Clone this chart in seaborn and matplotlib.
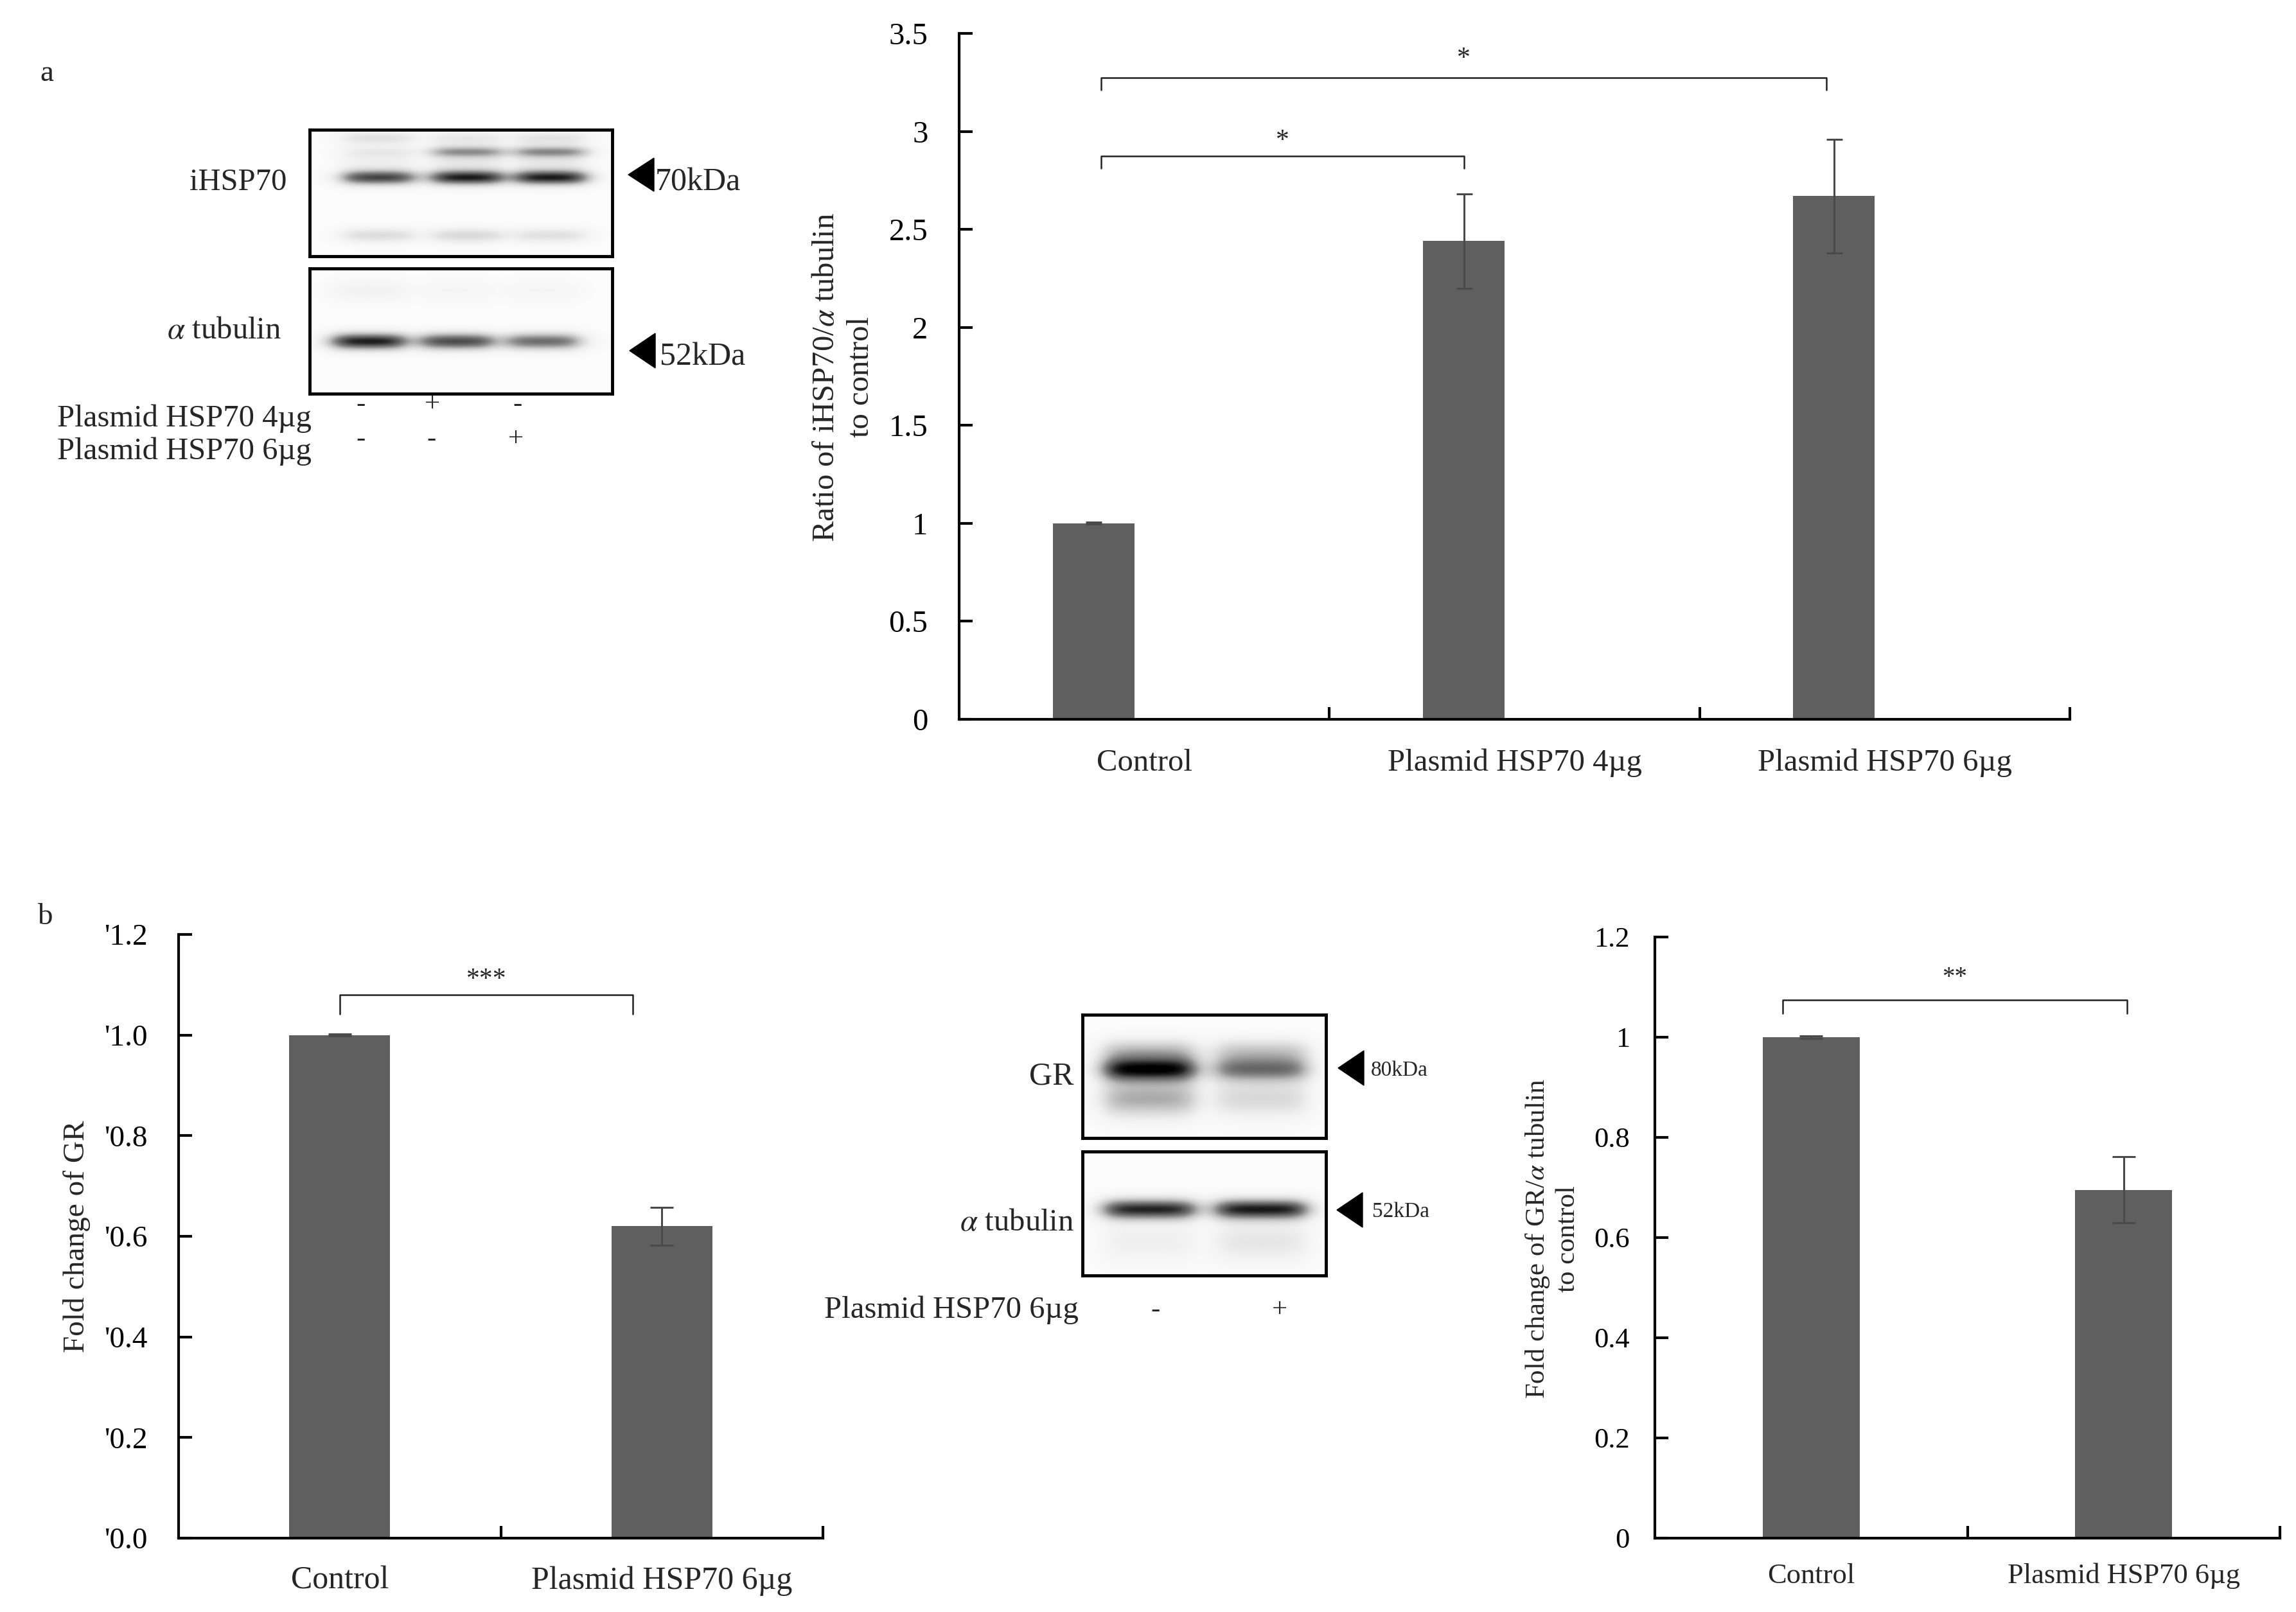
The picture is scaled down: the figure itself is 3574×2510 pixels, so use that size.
import numpy as np
import pandas as pd
import matplotlib.pyplot as plt
import seaborn as sns
from matplotlib.patches import Polygon

# ---------- style ----------
sns.set_style('white')
plt.rcParams['font.family'] = ['Liberation Serif', 'DejaVu Serif']
plt.rcParams['mathtext.fontset'] = 'stix'

W, H = 3574, 2510
BAR = '#5f5f5f'
ERR = '#4a4a4a'

# ---------- data ----------
# panel a: iHSP70 / alpha tubulin
a_groups = ['Control', 'Plasmid HSP70 4µg', 'Plasmid HSP70 6µg']
a_ratio = [1.0, 2.44, 2.67]
a_err = [0.005, 0.24, 0.29]
a_yticks = [0, 0.5, 1, 1.5, 2, 2.5, 3, 3.5]
a_yticklabels = ['0', '0.5', '1', '1.5', '2', '2.5', '3', '3.5']
# brackets: (left, right, height, drop, stars, star_y)
a_sig = [(0.02, 1.0, 2.874, 0.062, '*', 2.95),
         (0.02, 1.98, 3.273, 0.062, '*', 3.37)]

# panel b: GR
b_groups = ['Control', 'Plasmid HSP70 6µg']
b_gr = [1.0, 0.62]
b_gr_err = [0.002, 0.038]
b_gr_yticks = [0, 0.2, 0.4, 0.6, 0.8, 1.0, 1.2]
b_gr_yticklabels = ["'0.0", "'0.2", "'0.4", "'0.6", "'0.8", "'1.0", "'1.2"]
b_gr_sig = [(0.0, 0.91, 1.080, 0.038, '***', 1.110)]

b_ratio = [1.0, 0.695]
b_ratio_err = [0.002, 0.066]
b_ratio_yticks = [0, 0.2, 0.4, 0.6, 0.8, 1.0, 1.2]
b_ratio_yticklabels = ['0', '0.2', '0.4', '0.6', '0.8', '1', '1.2']
b_ratio_sig = [(-0.09, 1.01, 1.074, 0.027, '**', 1.118)]

# blot band intensities (0 = white, 1 = black), one value per lane
# rows: (relative y, sigma, [lane intensities])
a_hsp_bands = [(12, 7, [0.16, 0.12, 0.14]),
               (45, 18, [0.10, 0.14, 0.14]),
               (34, 6, [0.06, 0.40, 0.42]),
               (74, 8, [0.74, 0.85, 0.85]),
               (164, 8, [0.20, 0.22, 0.18])]
a_tub_bands = [(34, 12, [0.08, 0.05, 0.05]),
               (113, 9, [0.88, 0.74, 0.62])]
b_gr_bands = [(58, 14, [0.35, 0.30]),
              (85, 13, [0.92, 0.58]),
              (130, 20, [0.40, 0.22])]
b_tub_bands = [(90, 11, [0.85, 0.88]),
               (140, 22, [0.10, 0.15])]

fig = plt.figure(figsize=(W / 100, H / 100), dpi=100)


def px_axes(x0, y0, x1, y1):
    return fig.add_axes([x0 / W, 1 - y1 / H, (x1 - x0) / W, (y1 - y0) / H])


def ftext(x, y, s, **kw):
    fig.text(x / W, 1 - y / H, s, **kw)


def tri(x_tip, yc, w, h):
    pts = [(x_tip, yc), (x_tip + w, yc - h / 2), (x_tip + w, yc + h / 2)]
    pts = [(px / W, 1 - py / H) for px, py in pts]
    fig.add_artist(Polygon(pts, closed=True, color='black', transform=fig.transFigure))


def bar_panel(ax, groups, vals, errs, width, shift, top, yticks, yticklabels,
              yfs, ypad, xfs, xpad, capsize, sig, starfs):
    df = pd.DataFrame({'group': groups, 'val': vals})
    sns.barplot(data=df, x='group', y='val', color=BAR, saturation=1, width=width,
                errorbar=None, linewidth=0, ax=ax)
    ax.errorbar(range(len(vals)), vals, yerr=errs, fmt='none', ecolor=ERR,
                elinewidth=2.2, capsize=capsize, capthick=2.2, zorder=3)
    n = len(groups)
    ax.set_xlim(-0.5 + shift, n - 0.5 + shift)
    ax.set_ylim(0, top)
    ax.set_xticks([i + 0.5 + shift for i in range(n)])
    ax.set_xticklabels([])
    ax.set_xticks([i + shift for i in range(n)], minor=True)
    ax.set_xticklabels(groups, minor=True)
    ax.set_yticks(yticks)
    ax.set_yticklabels(yticklabels)
    ax.set_xlabel('')
    ax.set_ylabel('')
    ax.tick_params(axis='y', direction='in', length=15, width=3, pad=ypad,
                   labelsize=yfs, left=True, colors='black')
    ax.tick_params(axis='x', which='major', direction='in', length=14, width=3,
                   bottom=True, colors='black')
    ax.tick_params(axis='x', which='minor', length=0, pad=xpad, labelsize=xfs)
    sns.despine(ax=ax)
    for s in ['left', 'bottom']:
        ax.spines[s].set_linewidth(3)
        ax.spines[s].set_color('black')
    for x1, x2, h, d, stars, sy in sig:
        ax.plot([x1, x1, x2, x2], [h - d, h, h, h - d], color='#222222', lw=1.8,
                clip_on=False)
        ax.text((x1 + x2) / 2, sy, stars, ha='center', va='center', fontsize=starfs)


def blot(x0, y0, x1, y1, lanes, lane_w, bands):
    ax = px_axes(x0, y0, x1, y1)
    h, w = int(y1 - y0), int(x1 - x0)
    yy = np.arange(h)[:, None]
    xx = np.arange(w)[None, :]
    img = np.full((h, w), 0.03)
    for yc, sig, inten in bands:
        for lx, it in zip(lanes, inten):
            prof_x = 1 / (1 + np.exp(-(lane_w / 2 - np.abs(xx - lx)) / 11))
            img = img + it * np.exp(-0.5 * ((yy - yc) / sig) ** 2) * prof_x
    ax.imshow(np.clip(img, 0, 1), cmap='Greys', vmin=0, vmax=1, aspect='auto',
              interpolation='bilinear')
    ax.set_xticks([])
    ax.set_yticks([])
    for s in ax.spines.values():
        s.set_visible(True)
        s.set_linewidth(3.5)
        s.set_color('black')


# ---------- panel a ----------
ftext(73, 115, 'a', fontsize=34, ha='center', va='center')

blot(482, 202, 953, 399, [107, 245, 375], 108, a_hsp_bands)
blot(482, 418, 953, 613, [92, 229, 363], 112, a_tub_bands)
ftext(446, 284, 'iHSP70', fontsize=35, ha='right', va='center')
ftext(438, 515, r'$\alpha$ tubulin', fontsize=35, ha='right', va='center')
tri(978, 272, 40, 52)
ftext(1020, 284, '70kDa', fontsize=36, ha='left', va='center')
tri(980, 546, 40, 54)
ftext(1027, 556, '52kDa', fontsize=36, ha='left', va='center')
ftext(485, 652, 'Plasmid HSP70 4µg', fontsize=35, ha='right', va='center')
ftext(485, 703, 'Plasmid HSP70 6µg', fontsize=35, ha='right', va='center')
for x, s in zip([562, 673, 805], ['-', '+', '-']):
    ftext(x, 630, s, fontsize=31, ha='center', va='center')
for x, s in zip([562, 671, 803], ['-', '-', '+']):
    ftext(x, 684, s, fontsize=31, ha='center', va='center')

ax_a = px_axes(1493, 52, 3222, 1120)
bar_panel(ax_a, a_groups, a_ratio, a_err, 0.22, 0.137, 3.5, a_yticks, a_yticklabels,
          35, 35, 35, 33, 9, a_sig, 30)
ftext(1313, 587, 'Ratio of iHSP70/$\\alpha$ tubulin\nto control', fontsize=35,
      rotation=90, ha='center', va='center', multialignment='center',
      linespacing=1.3)

# ---------- panel b ----------
ftext(70, 1428, 'b', fontsize=34, ha='center', va='center')

ax_b1 = px_axes(278, 1455, 1281, 2395)
bar_panel(ax_b1, b_groups, b_gr, b_gr_err, 0.314, 0.0, 1.2, b_gr_yticks,
          b_gr_yticklabels, 34, 35, 36, 31, 13, b_gr_sig, 30)
ftext(120, 1925, 'Fold change of GR', fontsize=34, rotation=90, ha='center',
      va='center')

blot(1685, 1580, 2064, 1772, [104, 278], 140, b_gr_bands)
blot(1685, 1793, 2064, 1986, [104, 278], 140, b_tub_bands)
ftext(1672, 1676, 'GR', fontsize=36, ha='right', va='center')
ftext(1672, 1904, r'$\alpha$ tubulin', fontsize=35, ha='right', va='center')
tri(2083, 1663, 40, 54)
ftext(2134, 1667, '80kDa', fontsize=24, ha='left', va='center')
tri(2081, 1884, 40, 54)
ftext(2136, 1887, '52kDa', fontsize=24, ha='left', va='center')
ftext(1679, 2040, 'Plasmid HSP70 6µg', fontsize=35, ha='right', va='center')
ftext(1798, 2040, '-', fontsize=31, ha='center', va='center')
ftext(1992, 2040, '+', fontsize=31, ha='center', va='center')

ax_b2 = px_axes(2576, 1459, 3549, 2395)
bar_panel(ax_b2, b_groups, b_ratio, b_ratio_err, 0.31, 0.0, 1.2, b_ratio_yticks,
          b_ratio_yticklabels, 32, 28, 32, 28, 13, b_ratio_sig, 28)
ftext(2416, 1929, 'Fold change of GR/$\\alpha$ tubulin\nto control', fontsize=31,
      rotation=90, ha='center', va='center', multialignment='center')

fig.savefig('out.png', dpi=100)
